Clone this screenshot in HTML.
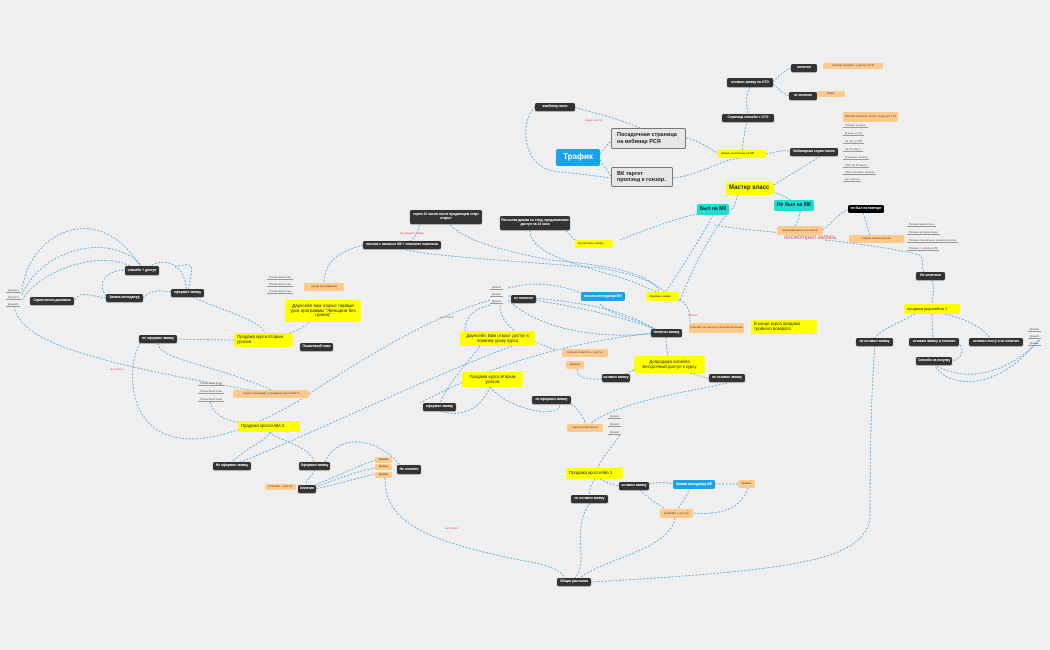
<!DOCTYPE html>
<html><head><meta charset="utf-8">
<style>
body{margin:0;width:1050px;height:650px;background:#efefef;overflow:hidden;position:relative;font-family:"Liberation Sans","DejaVu Sans",sans-serif}
.n{position:absolute;box-sizing:border-box;display:flex;align-items:center;justify-content:center;text-align:center;line-height:1.1;border-radius:2px;white-space:normal;overflow:hidden}
.d{background:#333;color:#fff;font-size:3.3px;font-weight:bold;box-shadow:0 0.5px 1px #777}
.k{background:#000;color:#fff;font-size:3.3px;font-weight:bold}
.y{background:#ffff00;color:#222;font-size:4.5px;justify-content:flex-start;text-align:left;padding:0 3px}
.p{background:#ffc98a;color:#444;font-size:3px}
.b{background:#1aa3e8;color:#fff;font-size:3.3px;font-weight:bold}
.c{background:#19e0cf;color:#224;font-size:5px;font-weight:bold}
.g{background:#e6e6e6;border:1px solid #777;color:#222;font-size:5.5px;font-weight:bold;justify-content:flex-start;text-align:left;padding:0 5px}
.l{position:absolute;font-size:2.8px;color:#666;border-bottom:0.8px solid #999;padding:0 2px;white-space:nowrap}
.r{position:absolute;font-size:2.6px;color:#e05050;white-space:nowrap}
svg{position:absolute;left:0;top:0}
</style></head><body>
<svg width="1050" height="650" fill="none" stroke="#3a9be0" stroke-width="0.7" stroke-dasharray="2 1.5">
<path d="M600 154 C610 140 615 139 611 139"/><path d="M600 160 C610 175 612 177 611 177"/>
<path d="M640 128 C610 115 580 110 575 107"/><path d="M686 138 C700 140 710 150 718 153"/>
<path d="M673 178 C700 175 720 160 740 158"/><path d="M535 107 C520 120 520 170 560 172 C590 175 611 178 611 178"/>
<path d="M742 150 C745 130 746 122 748 121"/><path d="M748 113 C745 100 748 90 750 87"/>
<path d="M773 82 C780 75 785 70 791 68"/><path d="M773 84 C780 90 785 95 789 96"/>
<path d="M766 154 C775 152 780 150 790 151"/><path d="M820 156 C800 170 780 180 770 188"/>
<path d="M738 195 C735 200 735 210 729 210"/><path d="M770 190 C780 195 790 198 790 200"/>
<path d="M729 210 C700 212 680 216 620 240"/><path d="M713 215 C700 240 680 270 665 293"/>
<path d="M800 211 C800 220 795 225 795 227"/><path d="M823 230 C835 220 840 212 848 210"/>
<path d="M863 213 C866 222 868 230 870 235"/><path d="M800 235 C780 232 740 230 715 225"/>
<path d="M825 240 C870 245 900 250 920 255 C925 260 920 270 925 272"/>
<path d="M932 280 C935 290 932 300 932 304"/><path d="M915 314 C895 325 880 330 875 338"/>
<path d="M932 314 C932 325 933 330 933 338"/><path d="M945 314 C970 320 985 330 990 338"/>
<path d="M960 345 C965 350 960 360 952 361"/><path d="M875 346 C870 400 870 500 870 520 C860 560 800 570 591 582"/>
<path d="M1040 340 C1000 380 960 380 935 365"/><path d="M1038 340 C1000 390 950 390 935 366"/>
<path d="M446 220 C460 240 500 250 550 260 C600 265 650 270 660 293"/>
<path d="M530 230 C530 250 560 260 612 275 C640 283 650 290 660 293"/>
<path d="M575 240 C560 225 555 220 570 220"/><path d="M420 218 C420 230 415 238 410 241"/>
<path d="M403 249 C420 255 500 260 600 268 C640 275 660 285 665 293"/>
<path d="M363 245 C340 252 325 260 324 283"/>
<path d="M300 300 C290 310 288 320 290 320"/><path d="M310 322 C300 330 290 333 285 334"/>
<path d="M265 340 C240 340 200 340 177 339"/><path d="M265 334 C262 320 220 310 190 296"/>
<path d="M158 343 C160 360 200 360 272 390"/><path d="M14 306 C20 340 80 360 250 390"/>
<path d="M210 402 C212 410 220 420 238 422"/><path d="M270 432 C268 440 250 445 232 462"/>
<path d="M270 432 C275 440 310 445 314 462"/><path d="M230 466 C300 440 420 380 515 345"/>
<path d="M315 470 C310 478 306 480 306 485"/><path d="M325 462 C340 430 380 440 400 465"/>
<path d="M376 460 C360 465 340 475 315 485"/><path d="M376 468 C360 470 340 478 316 487"/>
<path d="M376 474 C365 476 345 482 316 489"/><path d="M385 478 C385 520 420 540 520 560 C550 565 560 570 565 578"/>
<path d="M188 293 C190 270 200 260 175 267"/><path d="M171 292 C160 290 150 290 143 298"/>
<path d="M106 298 C90 296 80 290 75 300"/><path d="M106 296 C95 280 110 270 125 270"/>
<path d="M22 290 C30 230 100 200 140 266"/><path d="M22 295 C40 250 110 230 142 266"/><path d="M22 300 C40 270 100 250 130 266"/>
<path d="M186 289 C186 270 170 255 150 266"/>
<path d="M508 288 C540 280 560 285 590 296"/><path d="M536 300 C560 305 600 310 655 329"/>
<path d="M508 296 C560 300 620 305 655 330"/><path d="M508 300 C540 330 600 340 660 333"/>
<path d="M500 305 C500 330 530 340 556 350"/><path d="M600 304 C610 315 640 320 655 329"/>
<path d="M679 300 C690 305 690 315 690 323"/><path d="M666 337 C666 345 667 350 668 356"/>
<path d="M651 333 C600 340 520 350 420 403"/><path d="M634 370 C620 375 625 378 630 379"/>
<path d="M690 373 C700 375 705 378 709 379"/><path d="M602 379 C580 380 575 375 578 365"/>
<path d="M490 305 C470 310 465 320 465 331"/><path d="M490 300 C460 310 420 320 300 400 C 130 500 120 380 140 343"/>
<path d="M480 346 C470 360 450 380 440 403"/><path d="M490 387 C485 400 470 420 440 411"/>
<path d="M490 387 C510 410 560 420 560 404"/><path d="M571 404 C580 410 585 420 585 424"/>
<path d="M727 383 C700 390 620 400 590 424"/><path d="M620 435 C610 450 600 460 598 468"/>
<path d="M595 479 C590 485 590 490 589 495"/><path d="M600 479 C610 485 615 485 619 486"/>
<path d="M649 484 C660 482 665 482 673 484"/><path d="M715 484 C725 484 730 484 738 484"/>
<path d="M640 490 C650 500 660 505 665 509"/><path d="M690 488 C685 500 680 505 678 509"/>
<path d="M748 488 C740 510 720 515 693 513"/><path d="M675 518 C670 550 600 560 580 578"/>
<path d="M590 503 C570 530 590 560 575 578"/><path d="M680 300 C700 250 720 220 730 212"/>
</svg>
<div class="n d" style="left:535px;top:103px;width:40px;height:8px">комбинер моих</div>
<div class="r" style="left:585px;top:119px">увидел поступ</div>
<div class="n g" style="left:611px;top:128px;width:75px;height:21px">Посадочная страница на вебинар РСЯ</div>
<div class="n b" style="left:556px;top:149px;width:44px;height:17px;font-size:8px;border-radius:2px">Трафик</div>
<div class="n g" style="left:611px;top:167px;width:62px;height:20px">ВК таргет пролэнд к гонзор.</div>
<div class="n y" style="left:718px;top:150px;width:48px;height:8px;font-size:2.8px">Заявки на вебинар на МК</div>
<div class="n d" style="left:722px;top:114px;width:52px;height:8px">Страница спасибо с ОТО</div>
<div class="n d" style="left:727px;top:78px;width:46px;height:9px">оставил заявку на ОТО</div>
<div class="n d" style="left:791px;top:64px;width:26px;height:8px">оплатил</div>
<div class="n d" style="left:789px;top:92px;width:28px;height:8px">не оплатил</div>
<div class="n p" style="left:823px;top:63px;width:60px;height:6px">письмо спасибо + доступ в ГК</div>
<div class="n p" style="left:817px;top:91px;width:28px;height:6px">Шанс</div>
<div class="n d" style="left:790px;top:148px;width:48px;height:8px">Вебинарная серия писем</div>
<div class="n p" style="left:843px;top:112px;width:55px;height:10px">Письмо спасибо за рег. и доступ к ГК</div>
<div class="l" style="left:843px;top:123px">Письмо за день</div>
<div class="l" style="left:843px;top:131px">В день утром</div>
<div class="l" style="left:843px;top:139px">За час до МК</div>
<div class="l" style="left:843px;top:147px">За 15 минут</div>
<div class="l" style="left:843px;top:155px">В момент начала</div>
<div class="l" style="left:843px;top:163px">СМС за 15 минут</div>
<div class="l" style="left:843px;top:170px">СМС в момент начала</div>
<div class="l" style="left:843px;top:177px">Нет записи</div>
<div class="n y" style="left:726px;top:182px;width:48px;height:13px;font-size:6px;font-weight:bold;white-space:nowrap">Мастер класс</div>
<div class="n c" style="left:697px;top:204px;width:32px;height:11px">Был на МК</div>
<div class="n c" style="left:774px;top:200px;width:40px;height:11px">Не был на МК</div>
<div class="n k" style="left:848px;top:205px;width:36px;height:8px">не был на повторе</div>
<div class="n p" style="left:777px;top:226px;width:46px;height:9px">присоединение на повтор</div>
<div class="r" style="left:784px;top:235px;font-size:6px;font-style:italic">посмотрел запись</div>
<div class="n p" style="left:849px;top:235px;width:55px;height:8px">Серия писем дожим</div>
<div class="l" style="left:907px;top:222px">Письмо вышлитесь</div>
<div class="l" style="left:907px;top:230px">Письмо аргументация</div>
<div class="l" style="left:907px;top:238px">Письмо социальное доказательство</div>
<div class="l" style="left:907px;top:246px">Письмо с записью МК</div>
<div class="n d" style="left:916px;top:272px;width:29px;height:8px">Не оплатили</div>
<div class="n y" style="left:904px;top:304px;width:56px;height:10px;font-size:4px">продажа даунсейла 2</div>
<div class="n d" style="left:856px;top:338px;width:37px;height:8px">не оставил заявку</div>
<div class="n d" style="left:909px;top:338px;width:50px;height:8px">оставил заявку и оплатил</div>
<div class="n d" style="left:969px;top:338px;width:54px;height:8px">оставил почту и не оплатил</div>
<div class="l" style="left:1028px;top:327px">Дожим</div>
<div class="l" style="left:1028px;top:334px">Дожим</div>
<div class="l" style="left:1028px;top:341px">Дожим</div>
<div class="n d" style="left:916px;top:357px;width:36px;height:8px">Спасибо за покупку</div>
<div class="n d" style="left:410px;top:210px;width:72px;height:14px">серия 10 часов после продающим старт открыт</div>
<div class="r" style="left:400px;top:232px">Не оформил заявку</div>
<div class="n d" style="left:500px;top:216px;width:70px;height:14px">Рассылка дожим со след. предложением доступ на 24 часа</div>
<div class="n y" style="left:575px;top:240px;width:38px;height:8px;font-size:2.8px">На оформил заявку</div>
<div class="n d" style="left:363px;top:241px;width:78px;height:8px">письма с записью МК + описание кошелька</div>
<div class="l" style="left:267px;top:275px">Пошаговый план</div>
<div class="l" style="left:267px;top:282px">Пошаговый план</div>
<div class="l" style="left:267px;top:289px">Пошаговый план</div>
<div class="n p" style="left:304px;top:283px;width:40px;height:8px">серия апгрейдинга</div>
<div class="n y" style="left:285px;top:300px;width:76px;height:22px;font-size:4.5px;text-align:center;justify-content:center">Даунсейл вам открыт первый урок программы "Женщина без границ"</div>
<div class="n d" style="left:171px;top:289px;width:33px;height:8px">оформил заявку</div>
<div class="n d" style="left:125px;top:266px;width:34px;height:9px">спасибо + доступ</div>
<div class="n d" style="left:106px;top:294px;width:37px;height:8px">Заявка менеджеру</div>
<div class="n d" style="left:30px;top:297px;width:44px;height:8px">Серия писем дожимом</div>
<div class="l" style="left:6px;top:288px">Дожим 1</div>
<div class="l" style="left:6px;top:295px">Дожим 2</div>
<div class="l" style="left:6px;top:302px">Дожим3</div>
<div class="n y" style="left:234px;top:333px;width:59px;height:14px;font-size:4.3px">Продажа курса вторым уроком</div>
<div class="n d" style="left:300px;top:343px;width:33px;height:8px">Пошаговый план</div>
<div class="n d" style="left:139px;top:335px;width:38px;height:8px">не оформил заявку</div>
<div class="l" style="left:198px;top:381px">Пошаговый план</div>
<div class="l" style="left:198px;top:389px">Пошаговый план</div>
<div class="l" style="left:198px;top:397px">Пошаговый план</div>
<div class="n p" style="left:233px;top:390px;width:76px;height:8px">Серия письмами и продажа кросселйа 2</div>
<div class="n y" style="left:238px;top:421px;width:62px;height:11px;font-size:4.3px">Продажа кросселйа 2</div>
<div class="n d" style="left:213px;top:462px;width:38px;height:8px">Не оформил заявку</div>
<div class="n d" style="left:299px;top:462px;width:31px;height:8px">Оформил заявку</div>
<div class="n d" style="left:298px;top:485px;width:18px;height:8px">Оплатил</div>
<div class="n p" style="left:265px;top:484px;width:31px;height:6px">Спасибо + доступ</div>
<div class="n p" style="left:375px;top:457px;width:17px;height:6px">Дожим</div>
<div class="n p" style="left:375px;top:464px;width:17px;height:6px">Дожим</div>
<div class="n p" style="left:375px;top:472px;width:17px;height:6px">Дожим</div>
<div class="n d" style="left:397px;top:465px;width:24px;height:9px">Не оплатил</div>
<div class="l" style="left:490px;top:285px">Дожим</div>
<div class="l" style="left:490px;top:292px">Дожим</div>
<div class="l" style="left:490px;top:299px">Дожим</div>
<div class="n d" style="left:511px;top:295px;width:25px;height:8px">не оплатил</div>
<div class="n b" style="left:581px;top:292px;width:44px;height:9px">письмо менеджера МП</div>
<div class="n y" style="left:646px;top:292px;width:33px;height:9px;font-size:2.8px">Оформил заявку</div>
<div class="n d" style="left:651px;top:329px;width:31px;height:8px">Оплатил заявку</div>
<div class="n p" style="left:689px;top:323px;width:55px;height:10px">Спасибо на оплату и ссылка на видео</div>
<div class="n y" style="left:751px;top:320px;width:66px;height:14px;font-size:4.3px">В конце курса продажа тройного возврата</div>
<div class="n y" style="left:460px;top:331px;width:75px;height:15px;font-size:4.3px;text-align:center;justify-content:center">Даунсейл: Вам открыт доступ к первому уроку курса</div>
<div class="n y" style="left:462px;top:372px;width:61px;height:15px;font-size:4.3px;text-align:center;justify-content:center">Продажа курса вторым уроком</div>
<div class="n p" style="left:562px;top:349px;width:46px;height:8px">письмо спасибо + доступ</div>
<div class="n p" style="left:566px;top:361px;width:18px;height:8px">Дожим</div>
<div class="n y" style="left:634px;top:356px;width:71px;height:17px;font-size:4.3px;text-align:center;justify-content:center">Допродажа апсейла Бессрочный доступ к курсу</div>
<div class="n d" style="left:602px;top:374px;width:28px;height:8px">оставил заявку</div>
<div class="n d" style="left:709px;top:374px;width:36px;height:8px">не оставил заявку</div>
<div class="n d" style="left:423px;top:403px;width:33px;height:8px">оформил заявку</div>
<div class="n d" style="left:532px;top:396px;width:39px;height:8px">не оформил заявку</div>
<div class="n p" style="left:567px;top:424px;width:36px;height:8px">серия Апселлинга</div>
<div class="l" style="left:608px;top:414px">Дожим</div>
<div class="l" style="left:608px;top:422px">Дожим</div>
<div class="l" style="left:608px;top:430px">Дожим</div>
<div class="n y" style="left:566px;top:468px;width:57px;height:11px;font-size:4.3px">Продажа кросселйа 1</div>
<div class="n d" style="left:619px;top:482px;width:30px;height:8px">оставил заявку</div>
<div class="n b" style="left:673px;top:480px;width:42px;height:9px">Заявка менеджеру МП</div>
<div class="n p" style="left:738px;top:480px;width:17px;height:8px">Дожим</div>
<div class="n d" style="left:571px;top:495px;width:37px;height:8px">не оставил заявку</div>
<div class="n p" style="left:660px;top:509px;width:33px;height:9px">Спасибо + доступ</div>
<div class="n d" style="left:557px;top:578px;width:34px;height:8px">Общая рассылка</div>
<div class="r" style="left:440px;top:316px">не оплатил</div>
<div class="r" style="left:688px;top:314px">оплатил</div>
<div class="r" style="left:445px;top:527px">не оплатил</div>
<div class="r" style="left:110px;top:368px">не оплатил</div>
</body></html>
